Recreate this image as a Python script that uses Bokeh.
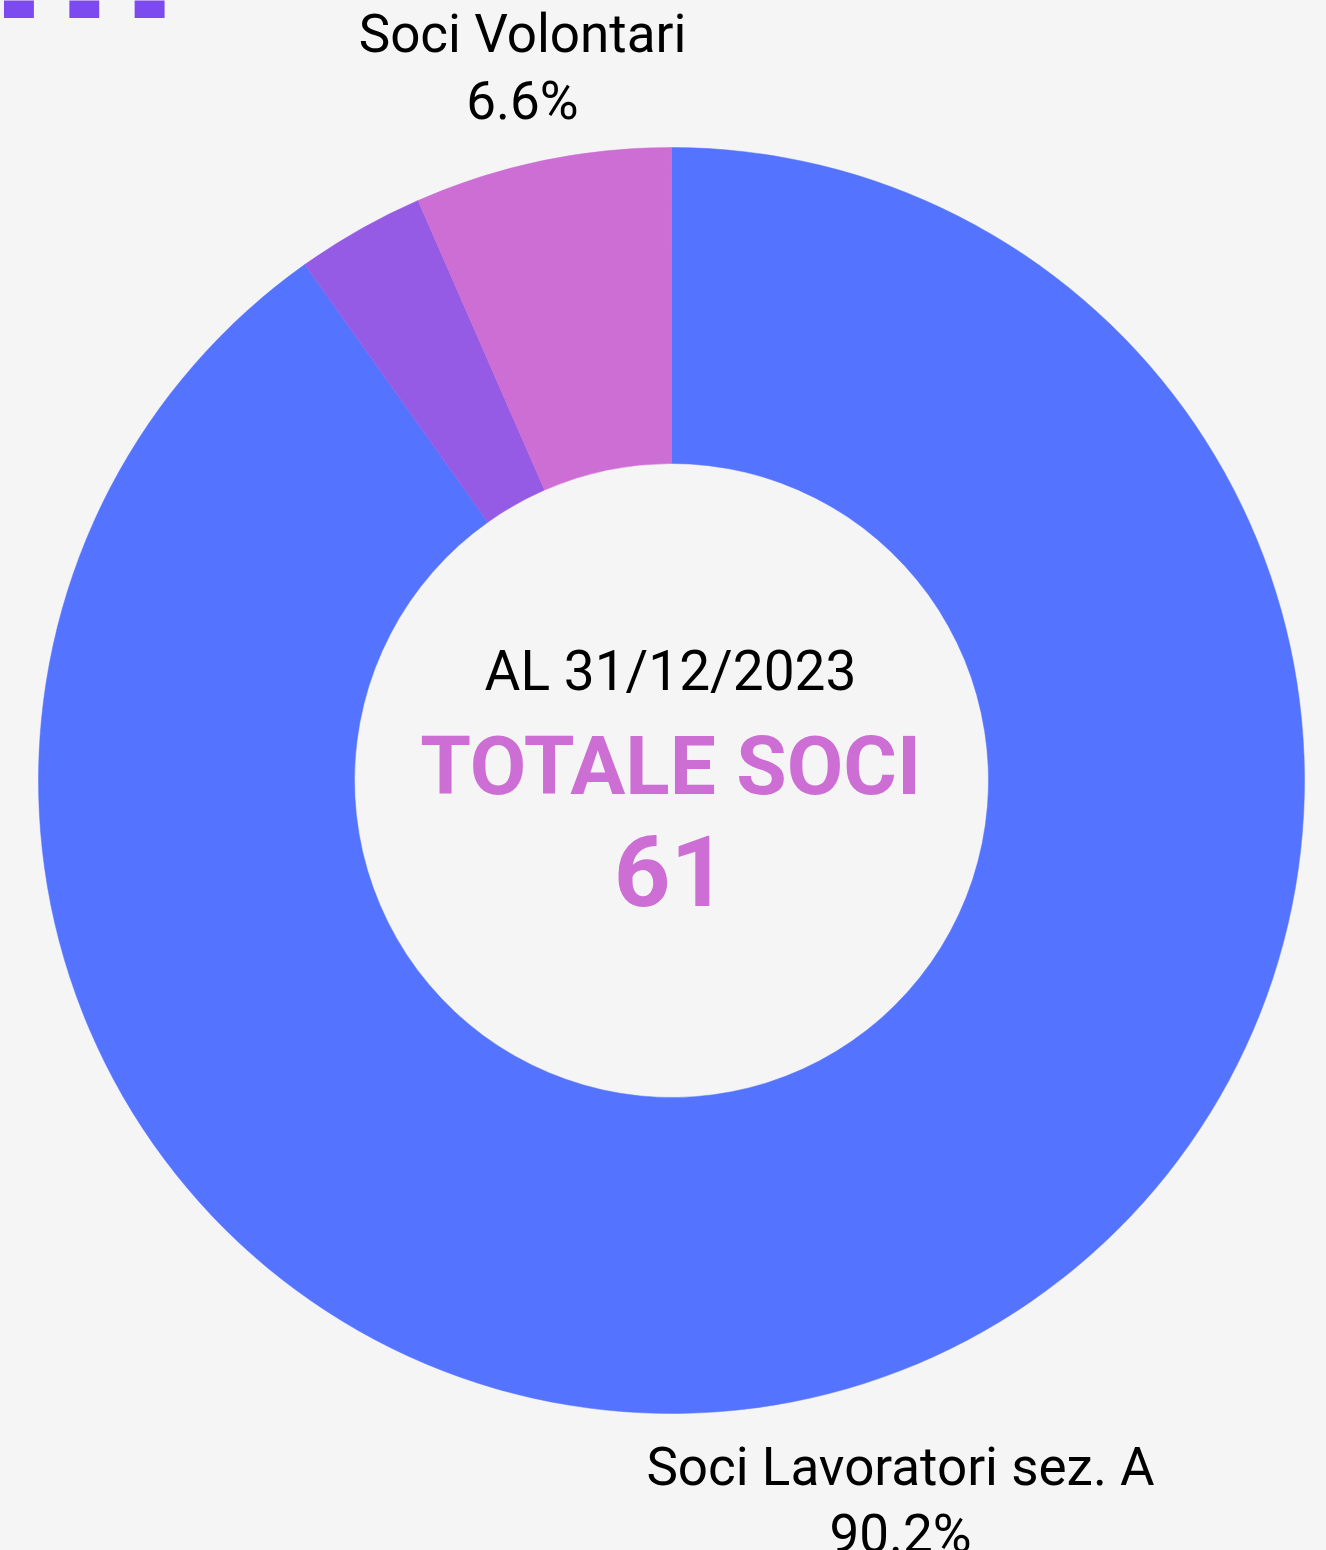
import numpy as np
from bokeh.plotting import figure
from bokeh.models import ColumnDataSource, Range1d
from bokeh.core.properties import value
from bokeh.embed import file_html
from bokeh.resources import INLINE

# ---- data ----
categories = ["Soci Lavoratori sez. A", "Altri Soci", "Soci Volontari"]
counts = [55, 2, 4]
colors = ["#5473FF", "#965BE5", "#CC6ED4"]
show_label = [True, False, True]
date_label = "AL 31/12/2023"
total_label = "TOTALE SOCI"

# ---- layout ----
W, H = 1326, 1550
CX, CY = 671, H - 780
R_OUT, R_IN = 633, 317
label_pos = {  # page coords: x center, baseline of name line
    "Soci Lavoratori sez. A": (900, 1486),
    "Soci Volontari": (522, 53),
}
LINE_GAP = 67
SHIFT = 0.365  # compensation of baseline placement (fraction of font size)


def ypos(baseline, size):
    return H - (baseline - SHIFT * size)


total = sum(counts)
fracs = np.array(counts) / total
cum = np.concatenate([[0], np.cumsum(fracs)])
a_before = np.pi / 2 - 2 * np.pi * cum[:-1]
a_after = np.pi / 2 - 2 * np.pi * cum[1:]

src = ColumnDataSource(dict(
    start=a_after, end=a_before, color=colors, cat=categories,
    x=[CX] * len(counts), y=[CY] * len(counts),
))

p = figure(width=W, height=H, x_range=Range1d(0, W), y_range=Range1d(0, H),
           output_backend="svg", toolbar_location=None, min_border=0,
           x_axis_location=None, y_axis_location=None)
p.grid.visible = False
p.outline_line_color = None
p.background_fill_color = "#F5F5F5"
p.border_fill_color = "#F5F5F5"

p.annular_wedge(x="x", y="y", inner_radius=R_IN, outer_radius=R_OUT,
                start_angle="start", end_angle="end", direction="anticlock",
                fill_color="color", line_color="color", line_width=0.5, source=src)

# outer labels
LS = 53
lx, ly, lt = [], [], []
for cat, f, show in zip(categories, fracs, show_label):
    if not show:
        continue
    x, b = label_pos[cat]
    lx += [x, x]
    ly += [ypos(b, LS), ypos(b + LINE_GAP, LS)]
    lt += [cat, f"{f*100:.1f}%"]
p.text(x=lx, y=ly, text=lt, text_font=value("Roboto"), text_font_size=f"{LS}px",
       text_color="#000000", text_align="center", text_baseline="alphabetic")

# center texts
p.text(x=[670], y=[ypos(691, 55)], text=[date_label], text_font=value("Roboto"),
       text_font_size="55px", text_color="#000000", text_align="center",
       text_baseline="alphabetic")
p.text(x=[670], y=[ypos(795, 82)], text=[total_label], text_font=value("Roboto"),
       text_font_size="82px", text_font_style="bold", text_color="#CC6ED4",
       text_align="center", text_baseline="alphabetic")
p.text(x=[670], y=[ypos(906, 99)], text=[str(total)], text_font=value("Roboto"),
       text_font_size="99px", text_font_style="bold", text_color="#CC6ED4",
       text_align="center", text_baseline="alphabetic")

# cropped decorative heading at the very top-left
p.text(x=[-8], y=[ypos(17, 198)], text=["m"], text_font=value("Roboto"),
       text_font_size="16.3em", text_font_style="bold", text_color="#7D4AF0",
       text_align="left", text_baseline="alphabetic")

html = file_html(p, INLINE, title="Totale soci")
html = html.replace("<head>", "<head><style>html,body{margin:0;padding:0;background:#F5F5F5;overflow:hidden}</style>", 1)
open("out.html", "w").write(html)
